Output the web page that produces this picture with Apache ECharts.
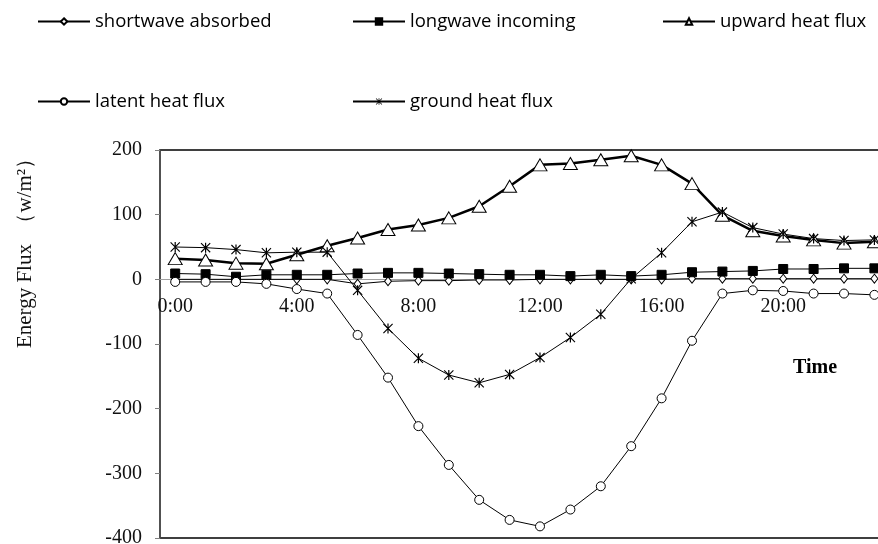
<!DOCTYPE html>
<html>
<head>
<meta charset="utf-8">
<script src="https://cdn.jsdelivr.net/npm/echarts@6/dist/echarts.min.js"></script>
<style>html,body{margin:0;padding:0;background:#fff;}#c{width:878px;height:544px;}</style>
</head>
<body>
<div id="c"></div>
<script>
var hours = ['0:00','1:00','2:00','3:00','4:00','5:00','6:00','7:00','8:00','9:00','10:00','11:00','12:00','13:00','14:00','15:00','16:00','17:00','18:00','19:00','20:00','21:00','22:00','23:00'];
var shortwaveAbsorbed = [0,0,0,0,0,0,-7,-3,-2,-2,-1,-1,0,0,0,0,0,1,1,1,1,1,1,1];
var longwaveIncoming = [9,8,4,7,7,7,9,10,10,9,8,7,7,5,7,5,7,11,12,13,16,16,17,17];
var upwardHeatFlux = [32,30,25,24,38,52,64,77,84,95,113,144,177,179,185,191,177,148,99,75,67,61,56,58];
var latentHeatFlux = [-4,-4,-4,-7,-15,-22,-86,-152,-227,-287,-341,-372,-382,-356,-320,-258,-184,-95,-22,-17,-18,-22,-22,-24];
var groundHeatFlux = [50,49,46,41,42,42,-17,-76,-122,-148,-160,-147,-121,-90,-54,1,41,89,104,80,70,63,60,61];
var yTicks = {min:-400, max:200, interval:100};

var asterisk = 'path://M4.4,0L5.6,0L5.6,10L4.4,10ZM0,0.8L0.8,0L10,9.2L9.2,10ZM9.2,0L10,0.8L0.8,10L0,9.2Z';
var serif = '"Liberation Serif","Times New Roman",serif';
var sans = '"Open Sans","Noto Sans",sans-serif';

var gridTop = 150, gridH = 388;
var zeroOffset = -gridH * (0 - yTicks.min) / (yTicks.max - yTicks.min);

function legendAt(name, left, top) {
  return {
    data:[name], left:left, top:top, itemWidth:52, itemHeight:8, itemGap:0,
    textStyle:{fontFamily:sans, fontSize:18.5, color:'#000'}
  };
}

var chart = echarts.init(document.getElementById('c'));
chart.setOption({
  animation:false,
  backgroundColor:'#fff',
  legend:[
    legendAt('shortwave absorbed', 32, 7),
    legendAt('longwave incoming', 347, 7),
    legendAt('upward heat flux', 657, 7),
    legendAt('latent heat flux', 32, 87),
    legendAt('ground heat flux', 347, 87)
  ],
  grid:{left:160, top:gridTop, width:729.6, height:gridH, show:true, borderColor:'#000', borderWidth:1.5, backgroundColor:'transparent', outerBoundsMode:'none', containLabel:false},
  xAxis:{
    type:'category', data:hours, boundaryGap:true, position:'bottom', offset:zeroOffset,
    axisLine:{onZero:false, lineStyle:{color:'#a0a0a0', width:1}},
    axisTick:{show:false},
    axisLabel:{interval:3, margin:17, fontFamily:serif, fontSize:20, color:'#111'},
    splitLine:{show:false}
  },
  yAxis:{
    type:'value', min:yTicks.min, max:yTicks.max, interval:yTicks.interval,
    axisLine:{show:true, lineStyle:{color:'#595959', width:1.5}},
    axisTick:{show:true, inside:false, length:5, lineStyle:{color:'#808080'}},
    axisLabel:{margin:18, fontFamily:serif, fontSize:20, color:'#111'},
    splitLine:{show:false}
  },
  graphic:[
    {type:'text', x:25, y:248, rotation:Math.PI/2, style:{text:'Energy Flux  （w/m²）', font:'21px '+serif, fill:'#111', align:'center', verticalAlign:'middle'}},
    {type:'text', x:815, y:368, style:{text:'Time', font:'bold 20px '+serif, fill:'#000', align:'center', verticalAlign:'middle'}}
  ],
  series:[
    {name:'shortwave absorbed', type:'line', data:shortwaveAbsorbed, symbol:'diamond', symbolSize:[7,9],
      lineStyle:{color:'#000', width:1}, itemStyle:{color:'#fff', borderColor:'#000', borderWidth:1}},
    {name:'longwave incoming', type:'line', data:longwaveIncoming, symbol:'rect', symbolSize:[9,9],
      lineStyle:{color:'#000', width:1}, itemStyle:{color:'#000', borderColor:'#000', borderWidth:1}},
    {name:'upward heat flux', type:'line', data:upwardHeatFlux, symbol:'triangle', symbolSize:[14,12],
      lineStyle:{color:'#000', width:2.5}, itemStyle:{color:'#fff', borderColor:'#000', borderWidth:1}},
    {name:'latent heat flux', type:'line', data:latentHeatFlux, symbol:'circle', symbolSize:9,
      lineStyle:{color:'#000', width:1}, itemStyle:{color:'#fff', borderColor:'#000', borderWidth:1}},
    {name:'ground heat flux', type:'line', data:groundHeatFlux, symbol:asterisk, symbolSize:[10,10],
      lineStyle:{color:'#000', width:1}, itemStyle:{color:'#000', borderColor:'#000', borderWidth:0}}
  ]
});
</script>
</body>
</html>
